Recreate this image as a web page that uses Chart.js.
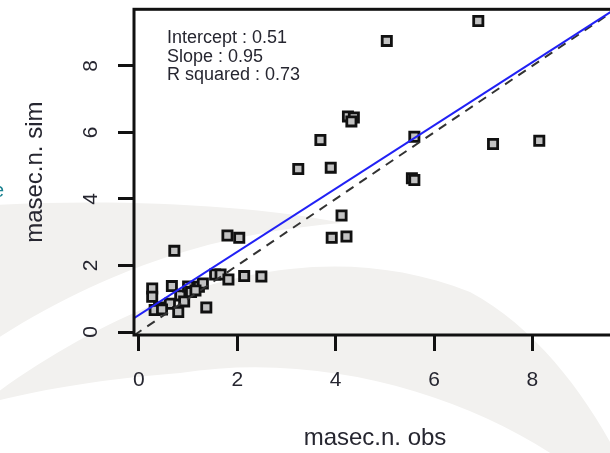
<!DOCTYPE html>
<html lang="en">
<head>
  <meta charset="UTF-8">
  <title>masec.n. obs vs sim</title>
  <style>
    html, body {
      margin: 0;
      padding: 0;
      background: #fff;
      overflow: hidden;
    }
    #wrap {
      position: relative;
      width: 610px;
      height: 453px;
      overflow: hidden;
    }
  </style>
</head>
<body>

<div id="wrap"><canvas id="chart" width="640" height="453"></canvas></div>

<script src="https://cdn.jsdelivr.net/npm/chart.js"></script>
<script>

const obsX = [6.9, 5.04, 4.25, 4.37, 4.32, 3.69, 5.6, 7.2, 8.14, 3.24,
              3.9, 5.55, 5.6, 4.12, 3.92, 4.22, 1.8, 2.04, 0.72, 0.27,
              0.27, 0.67, 0.84, 0.92, 1.0, 1.06, 0.63, 0.8, 0.41, 0.32,
              0.47, 1.22, 1.3, 1.55, 1.66, 1.37, 1.82, 2.14, 2.49, 1.15];
const simY = [9.35, 8.75, 6.48, 6.45, 6.33, 5.77, 5.87, 5.65, 5.75, 4.9,
              4.94, 4.62, 4.57, 3.5, 2.83, 2.87, 2.9, 2.83, 2.44, 1.31,
              1.06, 1.38, 1.1, 0.92, 1.37, 1.2, 0.85, 0.6, 0.74, 0.66,
              0.68, 1.36, 1.46, 1.73, 1.73, 0.74, 1.58, 1.68, 1.67, 1.25];

const xTicks = [0, 2, 4, 6, 8];
const yTicks = [0, 2, 4, 6, 8];
const xRange = [-0.1, 9.7];
const yRange = [-0.09, 9.7];

const fitIntercept = 0.51;
const fitSlope = 0.95;
const rSquared = 0.73;

const FONT = "'Liberation Sans', Arial, sans-serif";
const TEXT = '#262630';

const points = obsX.map((x, i) => ({ x: x, y: simY[i] }));
const fitLine = xRange.map(x => ({ x: x, y: fitIntercept + fitSlope * x }));
const oneToOne = xRange.map(x => ({ x: x, y: x }));

const statsLines = [
  'Intercept : ' + fitIntercept.toFixed(2),
  'Slope : ' + fitSlope.toFixed(2),
  'R squared : ' + rSquared.toFixed(2)
];

// light grey swooshes of the slide behind the plot
const backdrop = {
  id: 'backdrop',
  beforeDraw(chart) {
    const ctx = chart.ctx;
    ctx.save();
    ctx.fillStyle = '#fff';
    ctx.fillRect(0, 0, chart.width, chart.height);
    ctx.fillStyle = '#f2f1ef';

    // upper crescent
    ctx.beginPath();
    ctx.moveTo(-20, 206);
    ctx.bezierCurveTo(100, 198, 250, 204, 342, 223);
    ctx.bezierCurveTo(230, 232, 110, 262, -20, 350);
    ctx.closePath();
    ctx.fill();

    // lower crescent
    ctx.beginPath();
    ctx.moveTo(-20, 405);
    ctx.bezierCurveTo(120, 300, 300, 225, 470, 292);
    ctx.bezierCurveTo(540, 330, 590, 400, 625, 470);
    ctx.lineTo(575, 470);
    ctx.bezierCurveTo(480, 400, 330, 350, 180, 373);
    ctx.bezierCurveTo(90, 380, 30, 392, -20, 405);
    ctx.closePath();
    ctx.fill();

    // cut-off letter at the left edge of the slide
    ctx.fillStyle = '#1b8290';
    ctx.font = '20px ' + FONT;
    ctx.textBaseline = 'alphabetic';
    ctx.fillText('e', -7, 197);
    ctx.restore();
  },
  afterDraw(chart) {
    const ctx = chart.ctx;
    const a = chart.chartArea;
    ctx.save();
    ctx.strokeStyle = '#111';
    ctx.lineWidth = 3;
    ctx.strokeRect(a.left, a.top, a.right - a.left, a.bottom - a.top);

    ctx.fillStyle = TEXT;
    ctx.font = '18px ' + FONT;
    ctx.textAlign = 'left';
    ctx.textBaseline = 'alphabetic';
    statsLines.forEach((line, i) => {
      ctx.fillText(line, a.left + 33, a.top + 34 + i * 18.5);
    });
    ctx.restore();
  }
};

function noPad(s) {
  s.paddingTop = 0;
  s.paddingBottom = 0;
  s.paddingLeft = 0;
  s.paddingRight = 0;
}

new Chart(document.getElementById('chart'), {
  type: 'scatter',
  data: {
    datasets: [
      {
        label: 'fit',
        data: fitLine,
        showLine: true,
        borderColor: '#2121f5',
        borderWidth: 2,
        pointRadius: 0
      },
      {
        label: '1:1',
        data: oneToOne,
        showLine: true,
        borderColor: '#333',
        borderWidth: 2,
        borderDash: [9, 7],
        pointRadius: 0
      },
      {
        label: 'masec.n.',
        data: points,
        pointStyle: 'rect',
        pointRadius: 6.5,
        backgroundColor: '#c2c2c2',
        borderColor: '#111',
        borderWidth: 2.8
      }
    ]
  },
  options: {
    responsive: false,
    animation: false,
    layout: { padding: { top: 6, right: 24, left: 0, bottom: 0 } },
    plugins: {
      legend: { display: false },
      tooltip: { enabled: false }
    },
    scales: {
      x: {
        type: 'linear',
        position: 'bottom',
        min: xRange[0],
        max: xRange[1],
        afterBuildTicks: s => { s.ticks = xTicks.map(v => ({ value: v })); },
        afterFit: s => { s.height = 118; noPad(s); },
        border: { display: false },
        grid: { drawOnChartArea: false, drawTicks: true, tickLength: 16, tickWidth: 3, tickColor: '#111' },
        ticks: { padding: 17, color: TEXT, font: { family: FONT, size: 21 } },
        title: { display: true, text: 'masec.n. obs', color: TEXT, font: { family: FONT, size: 24 }, padding: { top: 0, bottom: 0 } }
      },
      y: {
        type: 'linear',
        min: yRange[0],
        max: yRange[1],
        afterBuildTicks: s => { s.ticks = yTicks.map(v => ({ value: v })); },
        afterFit: s => { s.width = 134; noPad(s); },
        border: { display: false },
        grid: { drawOnChartArea: false, drawTicks: true, tickLength: 16, tickWidth: 3, tickColor: '#111' },
        ticks: { padding: 21, minRotation: 90, maxRotation: 90, crossAlign: 'center', color: TEXT, font: { family: FONT, size: 21 } },
        title: { display: true, text: 'masec.n. sim', color: TEXT, font: { family: FONT, size: 24 }, padding: { top: 20.5, bottom: 0 } }
      }
    }
  },
  plugins: [backdrop]
});

</script>

</body>
</html>
